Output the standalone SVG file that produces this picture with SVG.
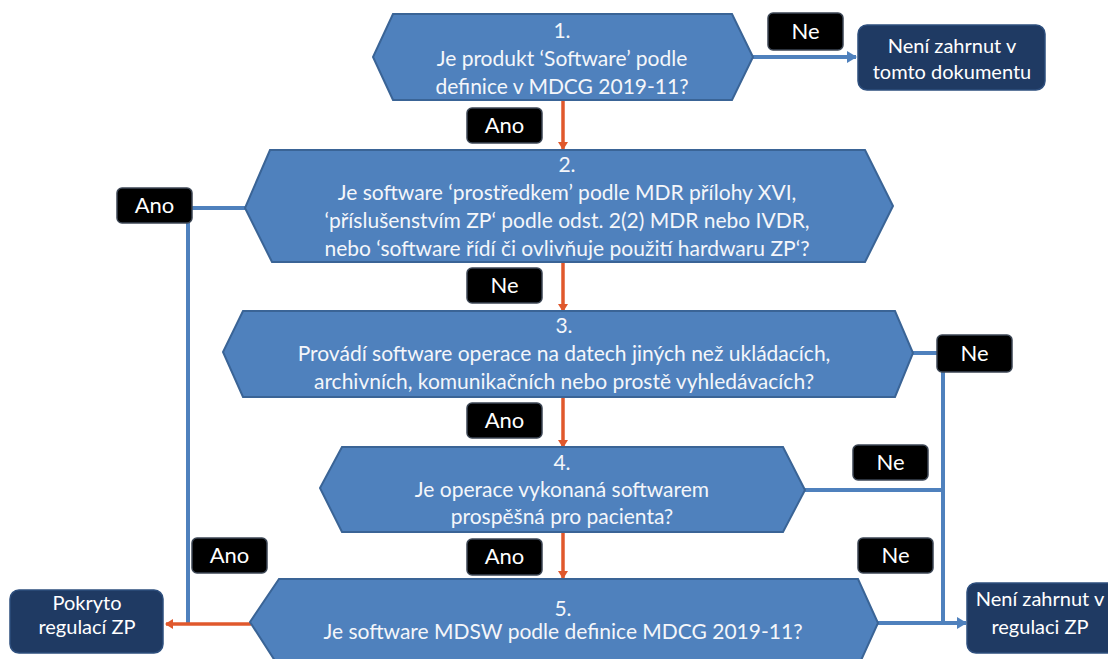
<svg xmlns="http://www.w3.org/2000/svg" width="1108" height="659" viewBox="0 0 1108 659">
<defs>
<style>
.hex{fill:#4F81BD;stroke:#3A6496;stroke-width:2}
.ht{font-family:Lato,"Open Sans","Liberation Sans",sans-serif;font-size:21px;fill:#F4F6FA;text-anchor:middle}
.nav{fill:#1F3A63;stroke:#2E4F7E;stroke-width:1.5}
.nt{font-family:Lato,"Open Sans","Liberation Sans",sans-serif;font-size:20px;fill:#FFFFFF;text-anchor:middle}
.lb{fill:#000000;stroke:#3C4654;stroke-width:1.5}
.lt{font-family:Lato,"Open Sans","Liberation Sans",sans-serif;font-size:22px;fill:#FFFFFF;text-anchor:middle}
.bl{stroke:#4F81BD;stroke-width:4;fill:none}
.or{stroke:#E0582C;stroke-width:3.5;fill:none}
</style>
<marker id="ao" markerWidth="10" markerHeight="10" refX="7" refY="5" orient="auto" markerUnits="userSpaceOnUse">
<path d="M0,0 L8,5 L0,10 Z" fill="#E0582C"/>
</marker>
<marker id="ab" markerWidth="12" markerHeight="12" refX="9" refY="6" orient="auto" markerUnits="userSpaceOnUse">
<path d="M0,0 L10,6 L0,12 Z" fill="#4F81BD"/>
</marker>
</defs>
<rect width="1108" height="659" fill="#FFFFFF"/>

<g id="connectors">
<line class="bl" x1="753" y1="57" x2="856" y2="57" marker-end="url(#ab)"/>
<line class="or" x1="563" y1="100" x2="563" y2="149" marker-end="url(#ao)"/>
<line class="or" x1="563" y1="262" x2="563" y2="311" marker-end="url(#ao)"/>
<line class="or" x1="563" y1="397" x2="563" y2="447" marker-end="url(#ao)"/>
<line class="or" x1="563" y1="532" x2="563" y2="578" marker-end="url(#ao)"/>
<line class="bl" x1="190" y1="208" x2="246" y2="208"/>
<line class="bl" x1="188" y1="220" x2="188" y2="624"/>
<line class="or" x1="251" y1="624" x2="166" y2="624" marker-end="url(#ao)"/>
<line class="bl" x1="912" y1="353" x2="940" y2="353"/>
<line class="bl" x1="943" y1="370" x2="943" y2="623"/>
<line class="bl" x1="804" y1="490" x2="943" y2="490"/>
<line class="bl" x1="877" y1="623" x2="966" y2="623" marker-end="url(#ab)"/>
</g>

<g id="labels">
<g id="lbl-ne1"><rect class="lb" x="768" y="13" width="75" height="37" rx="5"/><text class="lt" x="805.5" y="39">Ne</text></g>
<g id="lbl-ano1"><rect class="lb" x="467" y="108" width="75" height="35" rx="5"/><text class="lt" x="504.5" y="133">Ano</text></g>
<g id="lbl-ano2"><rect class="lb" x="117" y="188" width="75" height="35" rx="5"/><text class="lt" x="154.5" y="213">Ano</text></g>
<g id="lbl-ne2"><rect class="lb" x="467" y="268" width="75" height="35" rx="5"/><text class="lt" x="504.5" y="293">Ne</text></g>
<g id="lbl-ano3"><rect class="lb" x="467" y="403" width="75" height="35" rx="5"/><text class="lt" x="504.5" y="428">Ano</text></g>
<g id="lbl-ne3"><rect class="lb" x="937" y="335" width="75" height="37" rx="5"/><text class="lt" x="974.5" y="361">Ne</text></g>
<g id="lbl-ne4"><rect class="lb" x="853" y="445" width="75" height="35" rx="5"/><text class="lt" x="890.5" y="470">Ne</text></g>
<g id="lbl-ano4"><rect class="lb" x="467" y="539" width="75" height="36" rx="5"/><text class="lt" x="504.5" y="564">Ano</text></g>
<g id="lbl-ano5"><rect class="lb" x="192" y="538" width="75" height="35" rx="5"/><text class="lt" x="229.5" y="563">Ano</text></g>
<g id="lbl-ne5"><rect class="lb" x="858" y="538" width="75" height="35" rx="5"/><text class="lt" x="895.5" y="563">Ne</text></g>
</g>

<g id="q1">
<polygon class="hex" points="393,14 732,14 753,57 732,100 393,100 373,57"/>
<text class="ht" x="562" y="38">1.</text>
<text class="ht" x="562" y="66">Je produkt ‘Software’ podle</text>
<text class="ht" x="562" y="94">definice v MDCG 2019-11?</text>
</g>

<g id="q2">
<polygon class="hex" points="270,150 865,150 893,206 865,262 272,262 245,208"/>
<text class="ht" x="567" y="172">2.</text>
<text class="ht" x="567" y="200">Je software ‘prostředkem’ podle MDR přílohy XVI,</text>
<text class="ht" x="567" y="228">‘příslušenstvím ZP‘ podle odst. 2(2) MDR nebo IVDR,</text>
<text class="ht" x="567" y="256">nebo ‘software řídí či ovlivňuje použití hardwaru ZP‘?</text>
</g>

<g id="q3">
<polygon class="hex" points="243,311 895,311 913,353 895,397 243,397 223,352"/>
<text class="ht" x="564" y="333">3.</text>
<text class="ht" x="564" y="361">Provádí software operace na datech jiných než ukládacích,</text>
<text class="ht" x="564" y="389">archivních, komunikačních nebo prostě vyhledávacích?</text>
</g>

<g id="q4">
<polygon class="hex" points="342,447 783,447 805,490 783,532 342,532 320,488"/>
<text class="ht" x="562" y="470">4.</text>
<text class="ht" x="562" y="497">Je operace vykonaná softwarem</text>
<text class="ht" x="562" y="524">prospěšná pro pacienta?</text>
</g>

<g id="q5">
<polygon class="hex" points="279,579 858,579 878,623 858,667 279,667 250,622"/>
<text class="ht" x="563" y="616">5.</text>
<text class="ht" x="563" y="639">Je software MDSW podle definice MDCG 2019-11?</text>
</g>

<g id="out-doc">
<rect class="nav" x="858" y="25" width="187" height="65" rx="9"/>
<text class="nt" x="952" y="53">Není zahrnut v</text>
<text class="nt" x="952" y="79">tomto dokumentu</text>
</g>

<g id="covered">
<rect class="nav" x="10" y="590" width="153" height="63" rx="9"/>
<text class="nt" x="87" y="610">Pokryto</text>
<text class="nt" x="87" y="634">regulací ZP</text>
</g>

<g id="out-reg">
<rect class="nav" x="967" y="583" width="155" height="70" rx="9"/>
<text class="nt" x="1040" y="606">Není zahrnut v</text>
<text class="nt" x="1040" y="634">regulaci ZP</text>
</g>
</svg>
